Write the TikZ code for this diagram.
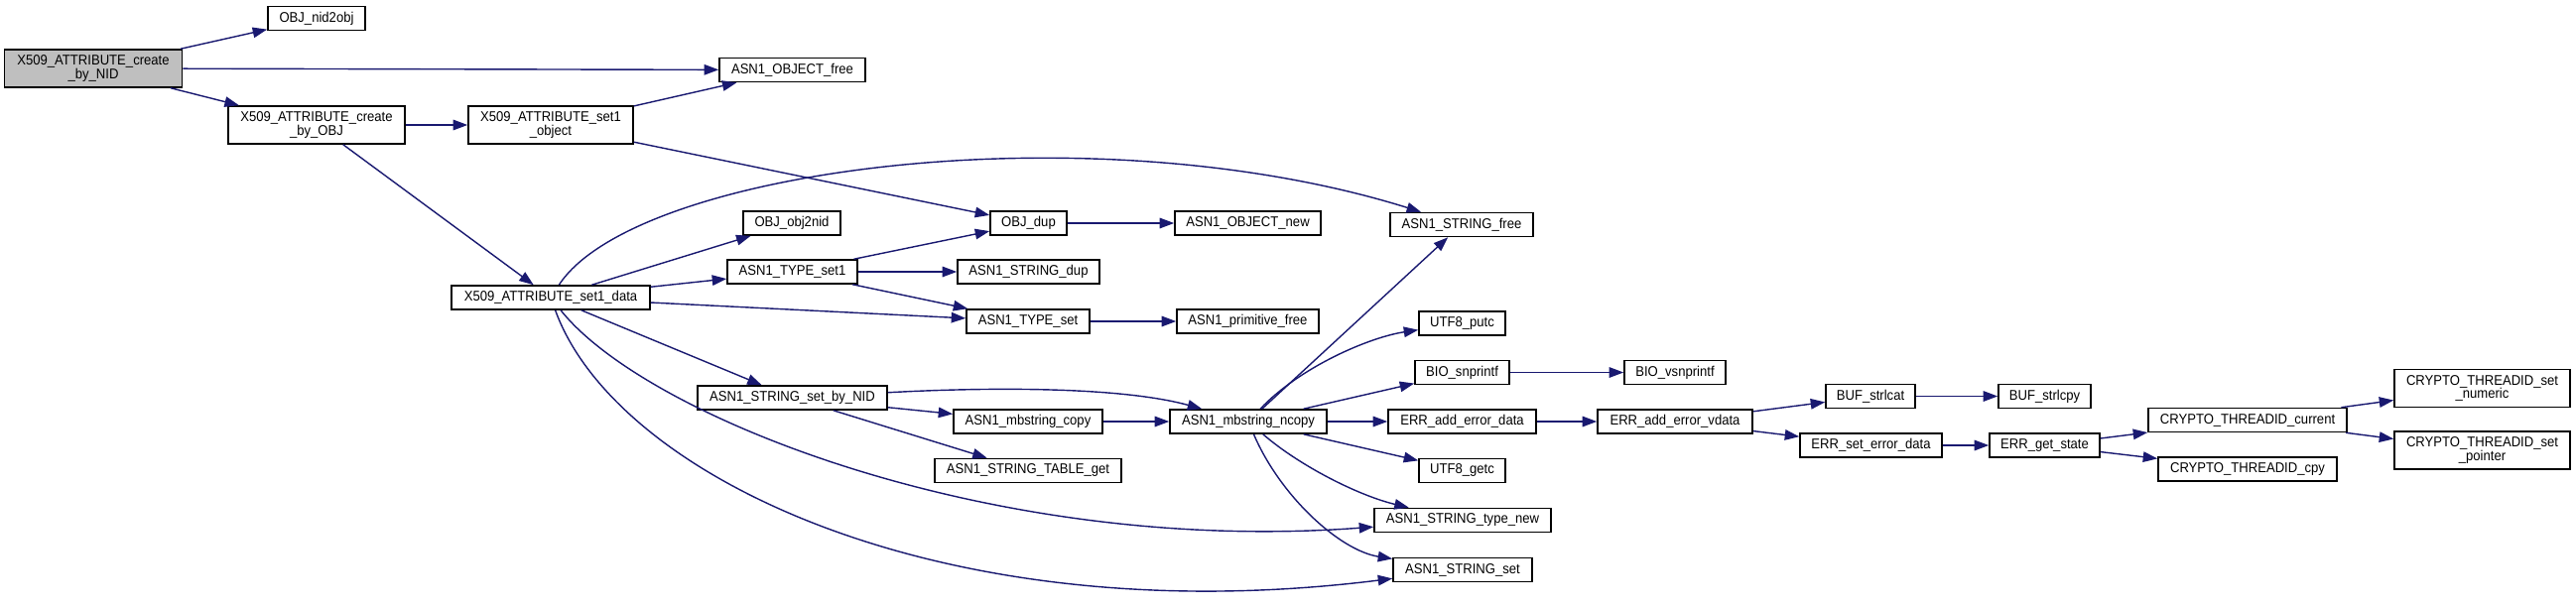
\documentclass[tikz,border=0pt]{standalone}
\usepackage{fontspec}
\setmainfont{Liberation Sans}[FakeStretch=0.92]
\usetikzlibrary{arrows.meta}
\definecolor{callblue}{HTML}{191970}
\begin{document}
\begin{tikzpicture}[x=0.02cm, y=-0.02cm, every node/.style={font=\fontsize{8.1}{7.9}\selectfont},
  fn/.style={draw,line width=0.9pt,fill=white,inner xsep=1pt,inner ysep=1pt,minimum height=0.48cm,minimum width=#1*0.02cm},
  fn2/.style={fn=#1,minimum height=0.76cm,align=center},
  root/.style={fill=black!25},
  call/.style={draw=callblue,line width=0.8pt,-{Triangle[length=0.29cm,width=0.21cm]},fill=none}]
\useasboundingbox (0,0) rectangle (2596,612);
\node[fn2=179,root] (nid) at (94,69) {X509\_ATTRIBUTE\_create\\\_by\_NID};
\node[fn=98] (nid2obj) at (319,18.5) {OBJ\_nid2obj};
\node[fn2=178] (byobj) at (319,126) {X509\_ATTRIBUTE\_create\\\_by\_OBJ};
\node[fn2=166] (setobj) at (555,126) {X509\_ATTRIBUTE\_set1\\\_object};
\node[fn=200] (data) at (555,300) {X509\_ATTRIBUTE\_set1\_data};
\node[fn=147] (objfree) at (798.5,70.5) {ASN1\_OBJECT\_free};
\node[fn=98] (obj2nid) at (798,225) {OBJ\_obj2nid};
\node[fn=131] (typeset1) at (798.5,274) {ASN1\_TYPE\_set1};
\node[fn=191] (setbynid) at (798.5,401) {ASN1\_STRING\_set\_by\_NID};
\node[fn=77] (objdup) at (1036.5,225) {OBJ\_dup};
\node[fn=143] (strdup) at (1036.5,274) {ASN1\_STRING\_dup};
\node[fn=124] (typeset) at (1036,324) {ASN1\_TYPE\_set};
\node[fn=150] (mbcopy) at (1036,425) {ASN1\_mbstring\_copy};
\node[fn=188] (tableget) at (1036,474.5) {ASN1\_STRING\_TABLE\_get};
\node[fn=147] (objnew) at (1257.5,225) {ASN1\_OBJECT\_new};
\node[fn=143] (primfree) at (1257.5,324) {ASN1\_primitive\_free};
\node[fn=158] (ncopy) at (1258,425) {ASN1\_mbstring\_ncopy};
\node[fn=144] (strfree) at (1473,226.5) {ASN1\_STRING\_free};
\node[fn=87] (utfputc) at (1473.5,326) {UTF8\_putc};
\node[fn=95] (biosnp) at (1473.5,375.5) {BIO\_snprintf};
\node[fn=149] (erradd) at (1473.5,425) {ERR\_add\_error\_data};
\node[fn=87] (utfgetc) at (1473.5,474.5) {UTF8\_getc};
\node[fn=178] (typenew) at (1474,524.5) {ASN1\_STRING\_type\_new};
\node[fn=140] (strset) at (1474,574.5) {ASN1\_STRING\_set};
\node[fn=102] (biovsnp) at (1688,375.5) {BIO\_vsnprintf};
\node[fn=156] (errvdata) at (1688,425) {ERR\_add\_error\_vdata};
\node[fn=90] (strlcat) at (1885,399.5) {BUF\_strlcat};
\node[fn=143] (seterr) at (1885.5,449) {ERR\_set\_error\_data};
\node[fn=93] (strlcpy) at (2060.5,399.5) {BUF\_strlcpy};
\node[fn=111] (getstate) at (2060.5,449) {ERR\_get\_state};
\node[fn=200] (tidcur) at (2265,423.5) {CRYPTO\_THREADID\_current};
\node[fn=180] (tidcpy) at (2265,473) {CRYPTO\_THREADID\_cpy};
\node[fn2=177] (tidnum) at (2501.5,391.5) {CRYPTO\_THREADID\_set\\\_numeric};
\node[fn2=177] (tidptr) at (2501.5,454) {CRYPTO\_THREADID\_set\\\_pointer};
\draw[call] (nid) -- (nid2obj);
\draw[call] (nid) -- (objfree);
\draw[call] (nid) -- (byobj);
\draw[call] (byobj) -- (setobj);
\draw[call] (byobj) -- (data);
\draw[call] (setobj) -- (objfree);
\draw[call] (setobj) -- (objdup);
\draw[call] (data) .. controls (640,170) and (1100,110) .. (strfree);
\draw[call] (data) -- (obj2nid);
\draw[call] (data) -- (typeset1);
\draw[call] (data) -- (typeset);
\draw[call] (data) -- (setbynid);
\draw[call] (data) .. controls (650,420) and (1000,560) .. (typenew);
\draw[call] (data) .. controls (620,480) and (950,640) .. (strset);
\draw[call] (typeset1) -- (objdup);
\draw[call] (typeset1) -- (strdup);
\draw[call] (typeset1) -- (typeset);
\draw[call] (objdup) -- (objnew);
\draw[call] (typeset) -- (primfree);
\draw[call] (setbynid) .. controls (1000,390) and (1130,390) .. (ncopy);
\draw[call] (setbynid) -- (mbcopy);
\draw[call] (setbynid) -- (tableget);
\draw[call] (mbcopy) -- (ncopy);
\draw[call] (ncopy) -- (strfree);
\draw[call] (ncopy) .. controls (1310,370) and (1380,340) .. (utfputc);
\draw[call] (ncopy) -- (biosnp);
\draw[call] (ncopy) -- (erradd);
\draw[call] (ncopy) -- (utfgetc);
\draw[call] (ncopy) .. controls (1310,470) and (1370,500) .. (typenew);
\draw[call] (ncopy) .. controls (1290,500) and (1350,555) .. (strset);
\draw[call] (biosnp) -- (biovsnp);
\draw[call] (erradd) -- (errvdata);
\draw[call] (errvdata) -- (strlcat);
\draw[call] (errvdata) -- (seterr);
\draw[call] (strlcat) -- (strlcpy);
\draw[call] (seterr) -- (getstate);
\draw[call] (getstate) -- (tidcur);
\draw[call] (getstate) -- (tidcpy);
\draw[call] (tidcur) -- (tidnum);
\draw[call] (tidcur) -- (tidptr);
\end{tikzpicture}
\end{document}
